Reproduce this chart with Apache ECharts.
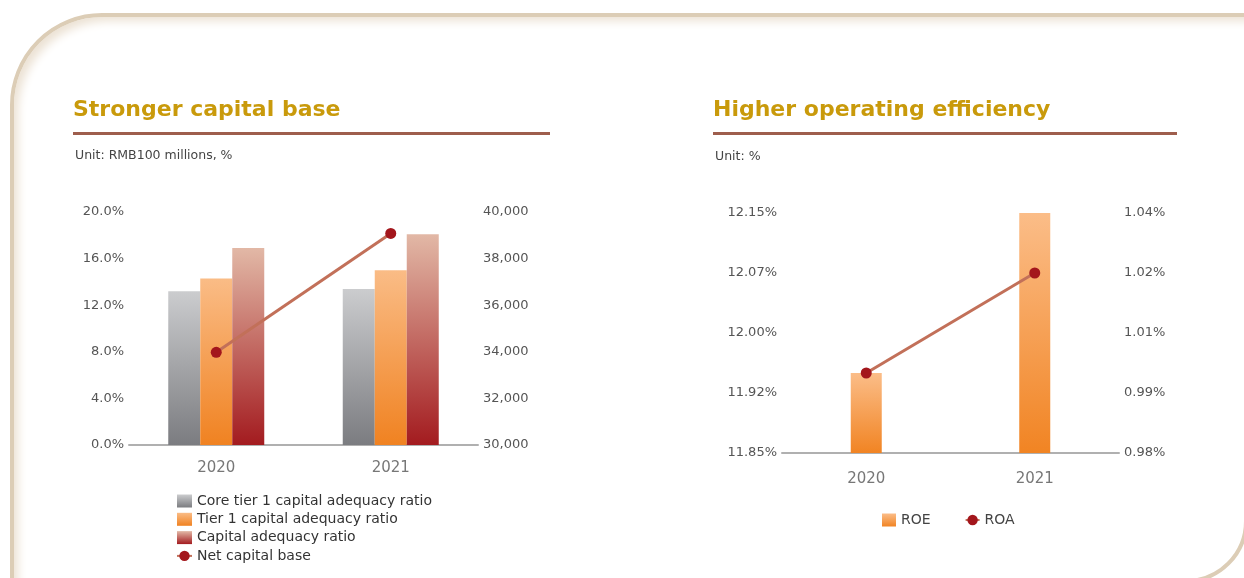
<!DOCTYPE html>
<html>
<head>
<meta charset="utf-8">
<script src="https://cdn.jsdelivr.net/npm/echarts@6/dist/echarts.min.js"></script>
<style>
  html, body { margin: 0; padding: 0; background: #fff; }
  #wrap { position: relative; width: 1244px; height: 578px; overflow: hidden; }
  #frame {
    position: absolute; left: 10px; top: 13px; width: 1230px; height: 562px;
    border: 4px solid #dccdb6;
    border-radius: 92px 0 62px 0;
    box-shadow: inset 7px 7px 10px -3px #ece2d4;
  }
  #chart { position: absolute; left: 0; top: 0; width: 1244px; height: 578px; }
</style>
</head>
<body>
<div id="wrap">
  <div id="frame"></div>
  <div id="chart"></div>
</div>
<script>
const YEARS = ["2020", "2021"];
const CORE_TIER1 = [13.2, 13.38];
const TIER1 = [14.3, 15.0];
const CAPITAL_ADEQUACY = [16.9, 18.1];
const NET_CAPITAL = [33980, 39080];
const ROE = [11.95, 12.15];
const ROA = [1.0, 1.025];

const FONT = "DejaVu Sans";

function vGrad(top, bottom) {
  return new echarts.graphic.LinearGradient(0, 0, 0, 1, [
    { offset: 0, color: top },
    { offset: 1, color: bottom },
  ]);
}

// labels in the original are cut, not rounded (11.925 -> 11.92)
function truncPct(value) {
  return (Math.floor(value * 100 + 1e-6) / 100).toFixed(2) + "%";
}

const chart = echarts.init(document.getElementById("chart"));

const yLabel = { color: "#555", fontFamily: FONT, fontSize: 13, margin: 5, padding: [4, 0, 0, 0] };

function xAxisFor(gridIndex, margin) {
  return {
    gridIndex,
    type: "category",
    data: YEARS,
    axisLine: { lineStyle: { color: "#b0b0b0", width: 2 } },
    axisTick: { show: false },
    axisLabel: { color: "#777", fontFamily: FONT, fontSize: 15, margin },
  };
}

const yAxisBase = {
  type: "value",
  axisLine: { show: false },
  axisTick: { show: false },
  splitLine: { show: false },
};

const lineStyle = { color: "#c27059", width: 3 };
const dotStyle = { color: "#a3161c" };

chart.setOption({
  animation: false,
  graphic: [
    {
      type: "text", left: 73, top: 99,
      style: { text: "Stronger capital base", fill: "#c99a0b", font: "bold 22px " + FONT },
    },
    {
      type: "text", left: 713, top: 99,
      style: { text: "Higher operating efficiency", fill: "#c99a0b", font: "bold 22px " + FONT },
    },
    { type: "rect", left: 73, top: 132, shape: { width: 477, height: 3 }, style: { fill: "#9e5e4d" } },
    { type: "rect", left: 713, top: 132, shape: { width: 464, height: 3 }, style: { fill: "#9e5e4d" } },
    {
      type: "text", left: 75, top: 149,
      style: { text: "Unit: RMB100 millions, %", fill: "#444", font: "12.5px " + FONT },
    },
    {
      type: "text", left: 715, top: 150,
      style: { text: "Unit: %", fill: "#444", font: "12.5px " + FONT },
    },
  ],
  grid: [
    { left: 129, right: 766, top: 212, bottom: 133 },
    { left: 782, right: 125, top: 213, bottom: 125 },
  ],
  legend: [
    {
      orient: "vertical",
      left: 171,
      top: 489,
      itemWidth: 15,
      itemHeight: 13,
      itemGap: 4.3,
      textStyle: { color: "#333", fontFamily: FONT, fontSize: 14 },
      data: [
        { name: "Core tier 1 capital adequacy ratio", icon: "rect" },
        { name: "Tier 1 capital adequacy ratio", icon: "rect" },
        { name: "Capital adequacy ratio", icon: "rect" },
        "Net capital base",
      ],
    },
    {
      orient: "horizontal",
      left: 877,
      top: 508,
      itemWidth: 14,
      itemHeight: 13,
      itemGap: 34,
      textStyle: { color: "#444", fontFamily: FONT, fontSize: 14 },
      data: [{ name: "ROE", icon: "rect" }, "ROA"],
    },
  ],
  xAxis: [xAxisFor(0, 16), xAxisFor(1, 19)],
  yAxis: [
    Object.assign({}, yAxisBase, {
      gridIndex: 0, min: 0, max: 20, interval: 4,
      axisLabel: Object.assign({}, yLabel, { formatter: (v) => v.toFixed(1) + "%" }),
    }),
    Object.assign({}, yAxisBase, {
      gridIndex: 0, position: "right", min: 30000, max: 40000, interval: 2000,
      axisLabel: Object.assign({}, yLabel, { formatter: (v) => v.toLocaleString("en-US") }),
    }),
    Object.assign({}, yAxisBase, {
      gridIndex: 1, min: 11.85, max: 12.15, interval: 0.075,
      axisLabel: Object.assign({}, yLabel, { formatter: truncPct }),
    }),
    Object.assign({}, yAxisBase, {
      gridIndex: 1, position: "right", min: 0.98, max: 1.04, interval: 0.015,
      axisLabel: Object.assign({}, yLabel, { formatter: truncPct }),
    }),
  ],
  series: [
    {
      name: "Core tier 1 capital adequacy ratio",
      type: "bar", xAxisIndex: 0, yAxisIndex: 0,
      barWidth: 32, barGap: "0%",
      itemStyle: { color: vGrad("#cbccce", "#7b7c80") },
      data: CORE_TIER1,
    },
    {
      name: "Tier 1 capital adequacy ratio",
      type: "bar", xAxisIndex: 0, yAxisIndex: 0,
      barWidth: 32, barGap: "0%",
      itemStyle: { color: vGrad("#fabc86", "#f08221") },
      data: TIER1,
    },
    {
      name: "Capital adequacy ratio",
      type: "bar", xAxisIndex: 0, yAxisIndex: 0,
      barWidth: 32, barGap: "0%",
      itemStyle: { color: vGrad("#e2b8a6", "#a31b1f") },
      data: CAPITAL_ADEQUACY,
    },
    {
      name: "Net capital base",
      type: "line", xAxisIndex: 0, yAxisIndex: 1,
      symbol: "circle", symbolSize: 11,
      lineStyle: lineStyle,
      itemStyle: dotStyle,
      data: NET_CAPITAL,
    },
    {
      name: "ROE",
      type: "bar", xAxisIndex: 1, yAxisIndex: 2,
      barWidth: 31,
      itemStyle: { color: vGrad("#fbbd88", "#f18423") },
      data: ROE,
    },
    {
      name: "ROA",
      type: "line", xAxisIndex: 1, yAxisIndex: 3,
      symbol: "circle", symbolSize: 11,
      lineStyle: lineStyle,
      itemStyle: dotStyle,
      data: ROA,
    },
  ],
});
</script>
</body>
</html>
